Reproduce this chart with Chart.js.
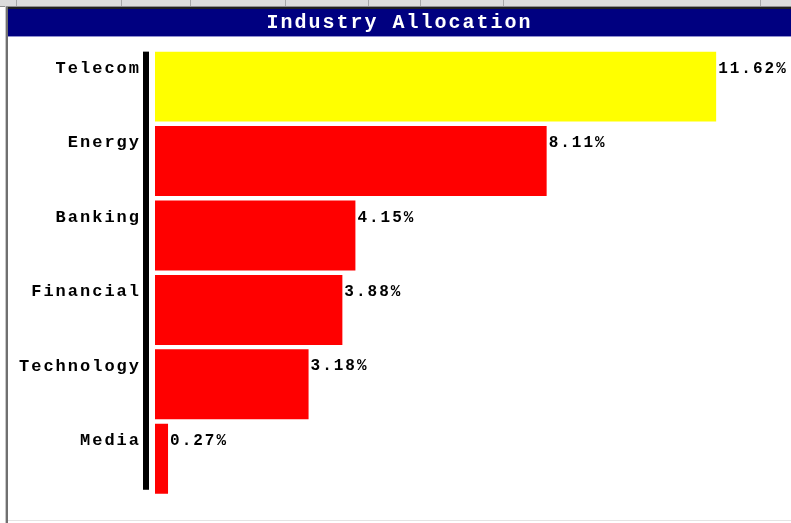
<!DOCTYPE html>
<html lang="en">
<head>
    <meta charset="UTF-8">
    <title>Industry Allocation</title>
    <style>
        html, body { margin: 0; padding: 0; background: #ffffff; }
        canvas { display: block; }
    </style>
</head>
<body>
    <canvas id="myChart" width="791" height="523"></canvas>

    <script src="https://cdn.jsdelivr.net/npm/chart.js"></script>
    <script>
        const industries = ['Telecom', 'Energy', 'Banking', 'Financial', 'Technology', 'Media'];
        const weights = [11.62, 8.11, 4.15, 3.88, 3.18, 0.27];
        const barColors = ['#ffff00', '#ff0000', '#ff0000', '#ff0000', '#ff0000', '#ff0000'];
        const titleText = 'Industry Allocation';

        const monoFont = "'Liberation Mono', 'Courier New', monospace";

        // window frame, header strip and navy title bar
        const framePlugin = {
            id: 'frame',
            beforeDraw(chart) {
                const ctx = chart.ctx;
                const w = chart.width, h = chart.height;
                ctx.save();
                ctx.fillStyle = '#ffffff';
                ctx.fillRect(0, 0, w, h);
                // spreadsheet-like strip on top
                ctx.fillStyle = '#dcdcdc';
                ctx.fillRect(0, 0, w, 6);
                ctx.fillStyle = '#a8a8a8';
                [16, 121, 190, 285, 368, 420, 503, 760].forEach(x => ctx.fillRect(x, 0, 1, 6));
                ctx.fillStyle = '#909090';
                ctx.fillRect(0, 6, w, 1);
                ctx.fillStyle = '#202020';
                ctx.fillRect(6, 7, w - 6, 2);
                // left border
                ctx.fillStyle = '#c8c8c8';
                ctx.fillRect(5, 6, 1, h - 6);
                ctx.fillStyle = '#707070';
                ctx.fillRect(6, 7, 2, h - 7);
                // title bar
                ctx.fillStyle = '#000080';
                ctx.fillRect(8, 9, w - 8, 27);
                ctx.fillStyle = '#9090d0';
                ctx.fillRect(8, 36, w - 8, 1);
                // bottom line
                ctx.fillStyle = '#e4e4e4';
                ctx.fillRect(8, h - 3, w - 8, 1);
                ctx.restore();
                // wide, typewriter-like spacing for all text
                if ('letterSpacing' in ctx) ctx.letterSpacing = '2px';
            }
        };

        // thick black axis line and value labels
        const barExtras = {
            id: 'barExtras',
            afterDatasetsDraw(chart) {
                const ctx = chart.ctx;
                const bars = chart.getDatasetMeta(0).data;
                const first = bars[0], last = bars[bars.length - 1];
                const top = first.y - first.height / 2;
                const bottom = last.y + last.height / 2 - 4;
                ctx.save();
                ctx.fillStyle = '#000000';
                ctx.fillRect(chart.chartArea.left - 12, top, 6, bottom - top);

                ctx.font = 'bold 16px ' + monoFont;
                ctx.textAlign = 'left';
                ctx.textBaseline = 'middle';
                bars.forEach((bar, i) => {
                    ctx.fillText(weights[i].toFixed(2) + '%', bar.x + 2, bar.y - 18);
                });
                ctx.restore();
            }
        };

        const ctx = document.getElementById('myChart').getContext('2d');
        new Chart(ctx, {
            type: 'bar',
            data: {
                labels: industries,
                datasets: [{
                    label: 'Weight',
                    data: weights,
                    backgroundColor: barColors,
                    borderWidth: 0,
                    categoryPercentage: 1,
                    barPercentage: 0.94
                }]
            },
            options: {
                indexAxis: 'y',
                responsive: false,
                animation: false,
                layout: { padding: { left: 8, top: 9, right: 0, bottom: 27 } },
                scales: {
                    x: {
                        display: false,
                        min: 0,
                        max: 13.17
                    },
                    y: {
                        afterFit(scale) { scale.width = 147; },
                        grid: { display: false, drawTicks: false },
                        border: { display: false },
                        ticks: {
                            color: '#000000',
                            padding: 14,
                            labelOffset: -18,
                            font: { family: monoFont, size: 17, weight: 'bold' }
                        }
                    }
                },
                plugins: {
                    legend: { display: false },
                    tooltip: { enabled: false },
                    title: {
                        display: true,
                        text: titleText,
                        color: '#ffffff',
                        padding: { top: 0, bottom: 13 },
                        font: { family: monoFont, size: 20, weight: 'bold', lineHeight: 1.37 }
                    }
                }
            },
            plugins: [framePlugin, barExtras]
        });
    </script>
</body>
</html>
